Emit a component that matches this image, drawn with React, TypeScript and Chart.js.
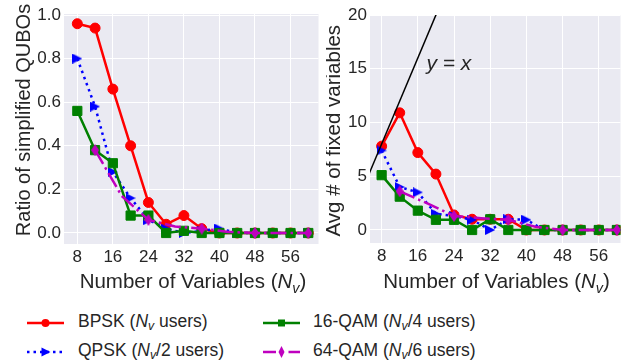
import React, { useEffect, useRef } from "react";
import { Chart, registerables } from "chart.js";

Chart.register(...registerables);

const FONT = '"Liberation Sans", Arial, Helvetica, sans-serif';
const TEXT = "#262626";
const BG = "#EAEAF2";

const RED = "#ff0000";
const BLUE = "#0000ff";
const GREEN = "#008000";
const MAGENTA = "#bf00bf";

// ---- data ----
const nvX = [8, 12, 16, 20, 24, 28, 32, 36, 40, 44, 48, 52, 56, 60];
const qam64X = [12, 18, 24, 30, 36, 42, 48, 54, 60];
const qam64Markers = [true, false, true, false, true, false, true, false, true];

const bpskRatio = [0.96, 0.94, 0.66, 0.4, 0.14, 0.04, 0.08, 0.02, 0, 0, 0, 0, 0, 0];
const qpskRatio = [0.8, 0.58, 0.28, 0.16, 0.06, 0.02, 0.0, 0.01, 0.02, 0, 0, 0, 0, 0];
const qam16Ratio = [0.56, 0.38, 0.32, 0.08, 0.08, 0.0, 0.01, 0, 0, 0, 0, 0, 0, 0];
const qam64Ratio = [0.38, 0.17, 0.06, 0.03, 0.02, 0.005, 0, 0, 0];

const bpskFixed = [7.8, 10.9, 7.2, 5.2, 1.4, 1.0, 1.0, 1.0, 0, 0, 0, 0, 0, 0];
const qpskFixed = [7.4, 4.0, 3.5, 1.5, 1.3, 0.95, 0, 1.0, 0.95, 0, 0, 0, 0, 0];
const qam16Fixed = [5.1, 3.1, 1.8, 0.95, 0.95, 0, 1.0, 0, 0, 0, 0, 0, 0, 0];
const qam64Fixed = [3.6, 2.5, 1.3, 1.1, 0.95, 0.3, 0, 0, 0];

const identityX = [4, 22]; // reference line y = x

const xTicks = [8, 16, 24, 32, 40, 48, 56];
const ratioTicks = [0, 0.2, 0.4, 0.6, 0.8, 1.0];
const fixedTicks = [0, 5, 10, 15, 20];

const seriesLabels = ["BPSK", "QPSK", "16-QAM", "64-QAM"];

// ---- helpers ----
function makeTriangle(color: string, w: number, h: number) {
  const c = document.createElement("canvas");
  c.width = w;
  c.height = h;
  const g = c.getContext("2d")!;
  g.fillStyle = color;
  g.beginPath();
  g.moveTo(0, 0);
  g.lineTo(w, h / 2);
  g.lineTo(0, h);
  g.closePath();
  g.fill();
  return c;
}
function makeDiamond(color: string, w: number, h: number) {
  const c = document.createElement("canvas");
  c.width = w;
  c.height = h;
  const g = c.getContext("2d")!;
  g.fillStyle = color;
  g.beginPath();
  g.moveTo(w / 2, 0);
  g.lineTo(w, h / 2);
  g.lineTo(w / 2, h);
  g.lineTo(0, h / 2);
  g.closePath();
  g.fill();
  return c;
}

type Part = { t: string; it?: boolean; sub?: boolean };
function drawRich(ctx: CanvasRenderingContext2D, parts: Part[], cx: number, baseline: number, size: number) {
  const fontFor = (p: Part) => `${p.it ? "italic " : ""}${p.sub ? size * 0.7 : size}px ${FONT}`;
  let total = 0;
  const ws = parts.map((p) => {
    ctx.font = fontFor(p);
    const w = ctx.measureText(p.t).width;
    total += w;
    return w;
  });
  let x = cx - total / 2;
  ctx.textAlign = "left";
  ctx.textBaseline = "alphabetic";
  ctx.fillStyle = TEXT;
  parts.forEach((p, i) => {
    ctx.font = fontFor(p);
    ctx.fillText(p.t, x, baseline + (p.sub ? size * 0.22 : 0));
    x += ws[i];
  });
}
function drawVertical(ctx: CanvasRenderingContext2D, text: string, bx: number, cy: number, size: number) {
  ctx.save();
  ctx.translate(bx, cy);
  ctx.rotate(-Math.PI / 2);
  ctx.font = `${size}px ${FONT}`;
  ctx.fillStyle = TEXT;
  ctx.textAlign = "center";
  ctx.textBaseline = "alphabetic";
  ctx.fillText(text, 0, 0);
  ctx.restore();
}

const xTitle: Part[] = [
  { t: "Number of Variables (" },
  { t: "N", it: true },
  { t: "v", it: true, sub: true },
  { t: ")" },
];

const bgPlugin = {
  id: "bgfill",
  beforeDraw(chart: any) {
    const { ctx, chartArea: a } = chart;
    ctx.save();
    ctx.fillStyle = BG;
    ctx.fillRect(a.left, a.top, a.right - a.left, a.bottom - a.top);
    ctx.restore();
  },
};

type PanelCfg = {
  xMin: number;
  xMax: number;
  yMin: number;
  yMax: number;
  yTicks: number[];
  yFmt: (v: number) => string;
  yWidth: number;
  xHeight: number;
  padTop: number;
  padRight: number;
  series: { x: number[]; y: number[] }[];
  markers: any[];
  withIdentity: boolean;
  draw: (chart: any) => void;
};

function buildDatasets(cfg: PanelCfg) {
  const [tri, dia] = cfg.markers;
  const mk = (xs: number[], ys: number[]) => xs.map((x, i) => ({ x, y: ys[i] }));
  const [s0, s1, s2, s3] = cfg.series;
  const ds: any[] = [
    {
      label: seriesLabels[0],
      data: mk(s0.x, s0.y),
      borderColor: RED,
      backgroundColor: RED,
      borderWidth: 2.5,
      pointStyle: "circle",
      pointRadius: 5,
      pointBorderWidth: 1,
      pointBackgroundColor: RED,
      pointBorderColor: RED,
      order: 4,
    },
    {
      label: seriesLabels[1],
      data: mk(s1.x, s1.y),
      borderColor: BLUE,
      backgroundColor: BLUE,
      borderWidth: 2.5,
      borderDash: [2.5, 4],
      pointStyle: tri,
      pointRadius: 5,
      order: 3,
    },
    {
      label: seriesLabels[2],
      data: mk(s2.x, s2.y),
      borderColor: GREEN,
      backgroundColor: GREEN,
      borderWidth: 2.5,
      pointStyle: "rect",
      pointRadius: 6.5,
      pointBorderWidth: 1,
      pointBackgroundColor: GREEN,
      pointBorderColor: GREEN,
      order: 2,
    },
    {
      label: seriesLabels[3],
      data: mk(s3.x, s3.y),
      borderColor: MAGENTA,
      backgroundColor: MAGENTA,
      borderWidth: 2.5,
      borderDash: [16, 4, 2.5, 4],
      pointStyle: dia,
      pointRadius: qam64Markers.map((m) => (m ? 5 : 0)),
      order: 1,
    },
  ];
  if (cfg.withIdentity) {
    ds.push({
      label: "y = x",
      data: identityX.map((x) => ({ x, y: x })),
      borderColor: "#000000",
      borderWidth: 1.5,
      pointRadius: 0,
      order: 0,
    });
  }
  return ds;
}

function makeChart(canvas: HTMLCanvasElement, cfg: PanelCfg) {
  const tickFont = { family: FONT, size: 17 };
  return new Chart(canvas, {
    type: "line",
    data: { datasets: buildDatasets(cfg) },
    options: {
      responsive: false,
      animation: false,
      devicePixelRatio: 1,
      events: [],
      layout: { padding: { top: cfg.padTop, right: cfg.padRight, left: 0, bottom: 0 } },
      plugins: { legend: { display: false }, tooltip: { enabled: false } },
      scales: {
        x: {
          type: "linear",
          min: cfg.xMin,
          max: cfg.xMax,
          afterBuildTicks: (s: any) => {
            s.ticks = xTicks.map((v) => ({ value: v }));
          },
          afterFit: (s: any) => {
            s.height = cfg.xHeight;
          },
          grid: { color: "#ffffff", lineWidth: 1, drawTicks: false },
          border: { display: false },
          ticks: {
            font: tickFont,
            color: TEXT,
            padding: 3,
            autoSkip: false,
            maxRotation: 0,
            callback: (v: any) => String(v),
          },
        },
        y: {
          type: "linear",
          min: cfg.yMin,
          max: cfg.yMax,
          afterBuildTicks: (s: any) => {
            s.ticks = cfg.yTicks.map((v) => ({ value: v }));
          },
          afterFit: (s: any) => {
            s.width = cfg.yWidth;
          },
          grid: { color: "#ffffff", lineWidth: 1, drawTicks: false },
          border: { display: false },
          ticks: {
            font: tickFont,
            color: TEXT,
            padding: 3,
            autoSkip: false,
            callback: (v: any) => cfg.yFmt(Number(v)),
          },
        },
      },
    },
    plugins: [
      bgPlugin,
      {
        id: "texts",
        afterDraw: (chart: any) => cfg.draw(chart),
      },
    ],
  } as any);
}

const LEFT_W = 326;
const RIGHT_W = 302;
const CANVAS_H = 295;

function LegendSample({ kind }: { kind: number }) {
  const w = 37;
  const h = 14;
  const cy = 7;
  const cx = w / 2;
  if (kind === 0)
    return (
      <svg width={w} height={h}>
        <line x1={0} y1={cy} x2={w} y2={cy} stroke={RED} strokeWidth={2.5} />
        <circle cx={cx} cy={cy} r={4} fill={RED} />
      </svg>
    );
  if (kind === 1)
    return (
      <svg width={w} height={h}>
        <line x1={0} y1={cy} x2={w} y2={cy} stroke={BLUE} strokeWidth={2.5} strokeDasharray="2.5 4" />
        <polygon points={`${cx - 4},${cy - 4.5} ${cx + 5},${cy} ${cx - 4},${cy + 4.5}`} fill={BLUE} />
      </svg>
    );
  if (kind === 2)
    return (
      <svg width={w} height={h}>
        <line x1={0} y1={cy} x2={w} y2={cy} stroke={GREEN} strokeWidth={2.5} />
        <rect x={cx - 3.5} y={cy - 3.5} width={7} height={7} fill={GREEN} />
      </svg>
    );
  return (
    <svg width={w} height={h}>
      <line x1={0} y1={cy} x2={w} y2={cy} stroke={MAGENTA} strokeWidth={2.5} strokeDasharray="13 5 2.5 5" />
      <polygon points={`${cx},${cy - 6} ${cx + 3},${cy} ${cx},${cy + 6} ${cx - 3},${cy}`} fill={MAGENTA} />
    </svg>
  );
}

const legendItems = [
  { kind: 0, name: "BPSK", users: " users)", col: 0, row: 0 },
  { kind: 1, name: "QPSK", users: "/2 users)", col: 0, row: 1 },
  { kind: 2, name: "16-QAM", users: "/4 users)", col: 1, row: 0 },
  { kind: 3, name: "64-QAM", users: "/6 users)", col: 1, row: 1 },
];
const legendRowY = [323.3, 351.7];
const legendColX = [27, 263];
const legendTextX = [78, 313];

export default function App() {
  const leftRef = useRef<HTMLCanvasElement>(null);
  const rightRef = useRef<HTMLCanvasElement>(null);

  useEffect(() => {
    const tri = makeTriangle(BLUE, 10, 10);
    const dia = makeDiamond(MAGENTA, 8, 12);
    const left = makeChart(leftRef.current!, {
      xMin: 5.0,
      xMax: 62.3,
      yMin: -0.0505,
      yMax: 1.0046,
      yTicks: ratioTicks,
      yFmt: (v) => v.toFixed(1),
      yWidth: 64,
      xHeight: CANVAS_H - 244,
      padTop: 14,
      padRight: LEFT_W - 320,
      series: [
        { x: nvX, y: bpskRatio },
        { x: nvX, y: qpskRatio },
        { x: nvX, y: qam16Ratio },
        { x: qam64X, y: qam64Ratio },
      ],
      markers: [tri, dia],
      withIdentity: false,
      draw: (chart) => {
        const ctx = chart.ctx;
        drawRich(ctx, xTitle, 193, 288, 20.5);
        drawVertical(ctx, "Ratio of simplified QUBOs", 29.5, 120, 20);
      },
    });
    const right = makeChart(rightRef.current!, {
      xMin: 5.43,
      xMax: 60.8,
      yMin: -1.21,
      yMax: 20,
      yTicks: fixedTicks,
      yFmt: (v) => String(v),
      yWidth: 370 - LEFT_W,
      xHeight: CANVAS_H - 243,
      padTop: 15,
      padRight: 628 - 621.7,
      series: [
        { x: nvX, y: bpskFixed },
        { x: nvX, y: qpskFixed },
        { x: nvX, y: qam16Fixed },
        { x: qam64X, y: qam64Fixed },
      ],
      markers: [tri, dia],
      withIdentity: true,
      draw: (chart) => {
        const ctx = chart.ctx;
        drawRich(ctx, xTitle, 496.5 - LEFT_W, 288, 20.5);
        drawVertical(ctx, "Avg # of fixed variables", 340 - LEFT_W, 130.7, 20.5);
        const xs = chart.scales.x;
        const ys = chart.scales.y;
        ctx.save();
        ctx.font = `italic 21px ${FONT}`;
        ctx.fillStyle = TEXT;
        ctx.textAlign = "left";
        ctx.textBaseline = "alphabetic";
        ctx.fillText("y = x", xs.getPixelForValue(17.9), ys.getPixelForValue(14.9));
        ctx.restore();
      },
    });
    return () => {
      left.destroy();
      right.destroy();
    };
  }, []);

  return (
    <div
      style={{
        position: "fixed",
        left: 0,
        top: 0,
        width: 628,
        height: 364,
        background: "#ffffff",
        overflow: "hidden",
      }}
    >
      <canvas
        ref={leftRef}
        width={LEFT_W}
        height={CANVAS_H}
        style={{ position: "absolute", left: 0, top: 0, width: LEFT_W, height: CANVAS_H }}
      />
      <canvas
        ref={rightRef}
        width={RIGHT_W}
        height={CANVAS_H}
        style={{ position: "absolute", left: LEFT_W, top: 0, width: RIGHT_W, height: CANVAS_H }}
      />
      {legendItems.map((it) => (
        <React.Fragment key={it.name}>
          <div style={{ position: "absolute", left: legendColX[it.col], top: legendRowY[it.row] - 7, height: 14, lineHeight: 0 }}>
            <LegendSample kind={it.kind} />
          </div>
          <div
            style={{
              position: "absolute",
              left: legendTextX[it.col],
              top: legendRowY[it.row] - 11.9,
              font: `17.5px ${FONT}`,
              lineHeight: "20px",
              color: TEXT,
              whiteSpace: "nowrap",
            }}
          >
            {it.name} (<i>N<sub style={{ fontSize: "0.7em", verticalAlign: "-0.25em", lineHeight: 0 }}>v</sub></i>
            {it.users}
          </div>
        </React.Fragment>
      ))}
    </div>
  );
}
